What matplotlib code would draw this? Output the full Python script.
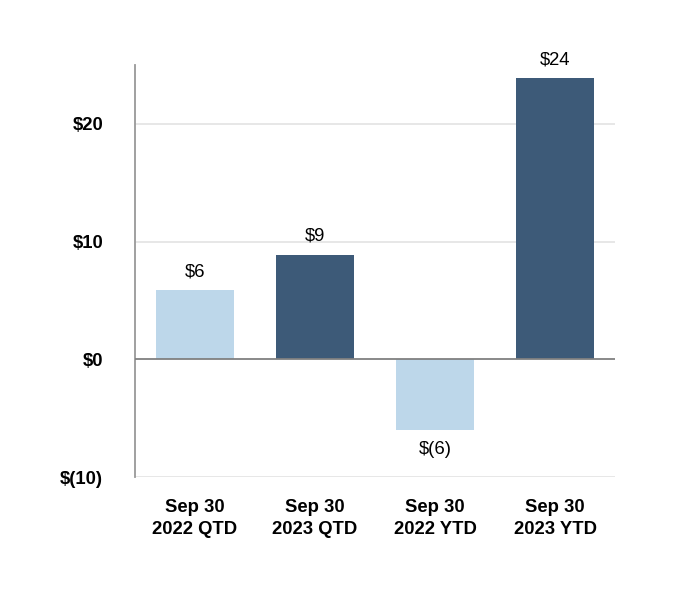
import matplotlib
matplotlib.use("Agg")
import matplotlib.pyplot as plt
from matplotlib.ticker import FixedLocator

categories = ["Sep 30\n2022 QTD", "Sep 30\n2023 QTD", "Sep 30\n2022 YTD", "Sep 30\n2023 YTD"]
values = [5.9, 8.9, -6.0, 23.9]
value_labels = ["$6", "$9", "$(6)", "$24"]
yticks = [-10, 0, 10, 20]
ytick_labels = ["$(10)", "$0", "$10", "$20"]
colors = ["#bdd7ea", "#3d5a78", "#bdd7ea", "#3d5a78"]

plt.rcParams['font.family'] = ['Liberation Sans', 'DejaVu Sans']
FS = 13.3

fig = plt.figure(figsize=(6.8, 6.0), dpi=100)
ax = fig.add_axes([135/680, 1-477/600, 480/680, 412/600])

x = list(range(len(categories)))
bars = ax.bar(x, values, width=0.65, color=colors, zorder=3)

ax.set_xlim(-0.5, len(categories) - 0.5)
ax.set_ylim(-10, 25)
ax.yaxis.set_major_locator(FixedLocator(yticks))
ax.set_yticklabels(ytick_labels, fontsize=FS, fontweight='bold')
ax.set_xticks(x)
ax.set_xticklabels(categories, fontsize=FS, fontweight='bold', linespacing=1.4)

for t in yticks:
    if t != 0:
        ax.axhline(t, color='#e3e3e3', lw=1.2, zorder=1)
ax.axhline(0, color='#808080', lw=1.3, zorder=4)

for b, v, lab in zip(bars, values, value_labels):
    cx = b.get_x() + b.get_width() / 2
    if v >= 0:
        ax.annotate(lab, (cx, v), xytext=(0, 7), textcoords='offset points',
                    ha='center', va='bottom', fontsize=FS)
    else:
        ax.annotate(lab, (cx, v), xytext=(0, -8), textcoords='offset points',
                    ha='center', va='top', fontsize=FS)

for s in ['top', 'right', 'bottom']:
    ax.spines[s].set_visible(False)
ax.spines['left'].set_color('#999999')
ax.spines['left'].set_linewidth(1.3)
ax.tick_params(axis='both', length=0)
ax.tick_params(axis='y', pad=23)
ax.tick_params(axis='x', pad=16)

fig.savefig("out.png", dpi=100, facecolor='white')
